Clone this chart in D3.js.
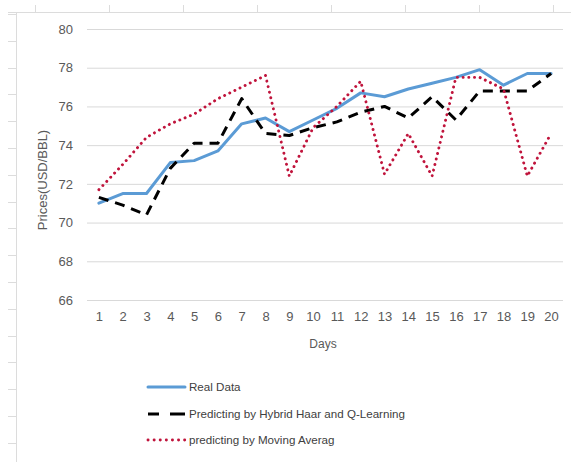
<!DOCTYPE html>
<html>
<head>
<meta charset="utf-8">
<script src="https://cdn.jsdelivr.net/npm/d3@7"></script>
<style>
  body { margin: 0; background: #fff; }
  svg { display: block; font-family: "Liberation Sans", Arial, sans-serif; }
  .tick text { fill: #595959; font-size: 13px; }
  .grid line { stroke: #d9d9d9; }
</style>
</head>
<body>
<div id="chart"></div>
<script>
// Chart data
const days = d3.range(1, 21);
const realData = [71.0, 71.5, 71.5, 73.1, 73.2, 73.7, 75.1, 75.4, 74.7, 75.3,
                  75.9, 76.7, 76.5, 76.9, 77.2, 77.5, 77.9, 77.1, 77.7, 77.7];
const hybridQ = [71.3, 70.9, 70.4, 72.8, 74.1, 74.1, 76.4, 74.6, 74.5, 74.9,
                 75.2, 75.7, 76.0, 75.4, 76.5, 75.3, 76.8, 76.8, 76.8, 77.7];
const movingAvg = [71.7, 73.0, 74.4, 75.1, 75.6, 76.4, 77.0, 77.6, 72.4, 74.9,
                   76.0, 77.3, 72.5, 74.6, 72.4, 77.5, 77.5, 76.9, 72.4, 74.6];
const yTicks = [66, 68, 70, 72, 74, 76, 78, 80];
const seriesNames = ["Real Data", "Predicting by Hybrid Haar and Q-Learning", "predicting by Moving Averag"];

// Dimensions
let w = 571, h = 462;
let pLeft = 87, pRight = 563, pTop = 29, pBottom = 300;

let svg = d3.select("#chart").append("svg").attr("width", w).attr("height", h);

// Spreadsheet frame remnants
let frame = svg.append("g").attr("stroke", "#dcdcdc").attr("stroke-width", 1);
frame.append("line").attr("x1", 16.5).attr("x2", 16.5).attr("y1", 12).attr("y2", h);
frame.append("line").attr("x1", 8).attr("x2", w).attr("y1", 12.5).attr("y2", 12.5);
d3.range(0, 17).forEach(i => {
  let y = Math.round(14 + i * 26.8) + 0.5;
  frame.append("line").attr("x1", 8).attr("x2", 16).attr("y1", y).attr("y2", y);
});
d3.range(0, 8).forEach(i => {
  let x = Math.round(35 + i * 74) + 0.5;
  frame.append("line").attr("x1", x).attr("x2", x).attr("y1", 5).attr("y2", 12);
});

// Scales
let xScale = d3.scalePoint().domain(days).range([pLeft, pRight]).padding(0.5);
let yScale = d3.scaleLinear().domain([66, 80]).range([pBottom, pTop]);

// Gridlines
svg.append("g").attr("class", "grid").attr("transform", "translate(" + pLeft + ",0)")
  .call(d3.axisLeft(yScale).tickValues(yTicks).tickSize(-(pRight - pLeft)).tickFormat(""))
  .call(g => g.select(".domain").remove());

// Y axis labels
svg.append("g").attr("transform", "translate(" + (pLeft - 6) + ",0)")
  .call(d3.axisLeft(yScale).tickValues(yTicks).tickSize(0).tickPadding(8))
  .call(g => g.select(".domain").remove());

// X axis labels
svg.append("g").attr("transform", "translate(0," + pBottom + ")")
  .call(d3.axisBottom(xScale).tickSize(0).tickPadding(12))
  .call(g => g.select(".domain").remove());

// Axis titles
svg.append("text").text("Days").attr("x", 323).attr("y", 348)
  .attr("text-anchor", "middle").attr("font-size", 12).attr("fill", "#595959");
svg.append("text").text("Prices(USD/BBL)").attr("transform", "translate(47,180) rotate(-90)")
  .attr("text-anchor", "middle").attr("font-size", 13).attr("fill", "#595959");

// Lines
let styles = [
  { data: realData, color: "#5b9bd5", width: 3, dash: null, cap: "round" },
  { data: hybridQ, color: "#000", width: 3, dash: "10,7", cap: "butt" },
  { data: movingAvg, color: "#c0143c", width: 2.9, dash: "0.1,5.6", cap: "round" }
];
let line = d3.line().x((d, i) => xScale(days[i])).y(d => yScale(d));
styles.forEach(s => {
  svg.append("path").datum(s.data).attr("d", line).attr("fill", "none")
    .attr("stroke", s.color).attr("stroke-width", s.width)
    .attr("stroke-dasharray", s.dash).attr("stroke-linecap", s.cap)
    .attr("stroke-linejoin", "round");
});

// Legend
let legendY = [387, 414, 440];
seriesNames.forEach((name, i) => {
  let s = styles[i];
  svg.append("line").attr("x1", 148).attr("x2", 185).attr("y1", legendY[i]).attr("y2", legendY[i])
    .attr("stroke", s.color).attr("stroke-width", s.width)
    .attr("stroke-dasharray", i == 1 ? "11,11,15" : (i == 2 ? "0.1,6" : null)).attr("stroke-linecap", s.cap);
  svg.append("text").text(name).attr("x", 189).attr("y", legendY[i]).attr("dy", "0.35em")
    .attr("font-size", 11.6).attr("fill", "#404040");
});
</script>
</body>
</html>
